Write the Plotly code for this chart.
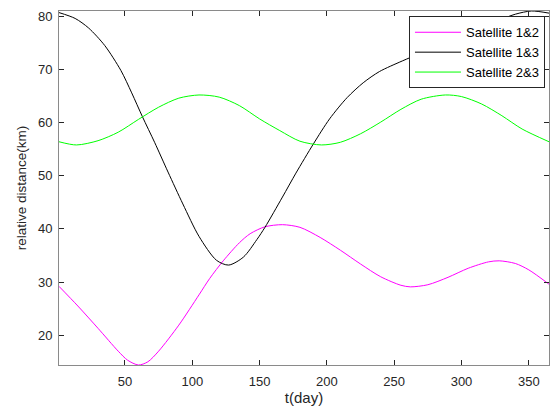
import plotly.graph_objects as go

# Satellite 1&2
days_12 = [1, 15, 30, 45, 52, 60, 67, 75, 90, 105, 113, 123, 135, 143, 154, 167, 180, 195, 210, 225, 240, 255, 262, 275, 290, 305, 320, 328, 340, 350, 365]
dist_12 = [29.2, 25.5, 21.3, 17.0, 15.3, 14.4, 15.0, 17.0, 21.9, 27.6, 30.7, 34.0, 37.4, 39.1, 40.4, 40.8, 40.3, 38.4, 36.0, 33.4, 31.0, 29.4, 29.1, 29.5, 30.9, 32.6, 33.8, 34.0, 33.5, 32.3, 29.6]

# Satellite 1&3
days_13 = [1, 13, 23, 35, 47, 55, 63, 72, 82, 93, 105, 118, 127, 138, 148, 154, 167, 177, 190, 202, 215, 227, 239, 256, 270, 285, 300, 315, 326, 340, 352, 365]
dist_13 = [80.7, 79.6, 77.8, 74.5, 69.8, 65.6, 61.1, 56.3, 50.7, 44.7, 38.6, 34.1, 33.2, 34.7, 38.0, 40.3, 46.0, 50.5, 56.0, 60.7, 64.7, 67.5, 69.6, 71.6, 73.1, 74.8, 76.5, 78.0, 79.1, 80.4, 81.0, 80.6]

# Satellite 2&3
days_23 = [1, 14, 30, 45, 60, 75, 90, 105, 120, 135, 150, 165, 180, 196, 210, 225, 240, 255, 270, 288, 300, 315, 330, 345, 365]
dist_23 = [56.4, 55.8, 56.6, 58.2, 60.6, 62.9, 64.6, 65.2, 64.8, 63.2, 60.7, 58.5, 56.5, 55.8, 56.3, 57.9, 60.1, 62.5, 64.4, 65.2, 64.9, 63.5, 61.3, 58.8, 56.4]

x_ticks = [50, 100, 150, 200, 250, 300, 350]
y_ticks = [20, 30, 40, 50, 60, 70, 80]

fig = go.Figure()
fig.add_trace(go.Scatter(x=days_12, y=dist_12, mode="lines", name="Satellite 1&2",
                         line=dict(color="#ff00ff", width=1, shape="spline", smoothing=0.8)))
fig.add_trace(go.Scatter(x=days_13, y=dist_13, mode="lines", name="Satellite 1&3",
                         line=dict(color="#000000", width=1, shape="spline", smoothing=0.8)))
fig.add_trace(go.Scatter(x=days_23, y=dist_23, mode="lines", name="Satellite 2&3",
                         line=dict(color="#00ff00", width=1, shape="spline", smoothing=0.8)))

axis_common = dict(
    showline=True, linecolor="#8a8a8a", linewidth=1, mirror="ticks",
    ticks="inside", ticklen=5, tickcolor="#262626", tickwidth=1,
    showgrid=False, zeroline=False,
    tickfont=dict(family="Liberation Sans, Arial", size=13, color="#262626"),
)

fig.update_layout(
    width=550, height=408,
    margin=dict(l=59, r=1, t=11, b=43, autoexpand=False),
    paper_bgcolor="white", plot_bgcolor="white",
    xaxis=dict(range=[1, 365], tickvals=x_ticks, ticklabelstandoff=4, automargin=False,
               title=dict(text="t(day)", standoff=4,
                          font=dict(family="Liberation Sans, Arial", size=15, color="#262626")),
               **axis_common),
    yaxis=dict(range=[14.4, 81.0], tickvals=y_ticks, ticklabelstandoff=3, automargin=False,
               title=dict(text="relative distance(km)", standoff=8,
                          font=dict(family="Liberation Sans, Arial", size=13.5, color="#262626")),
               **axis_common),
    legend=dict(x=0.9918, y=0.985, xanchor="right", yanchor="top",
                bgcolor="white", bordercolor="#262626", borderwidth=1,
                font=dict(family="Liberation Sans, Arial", size=13, color="#000000"),
                tracegroupgap=0, itemwidth=46),
    showlegend=True,
)

fig.write_html("out.html", config={"displayModeBar": False},
               post_script="document.body.style.margin='0';document.body.style.overflow='hidden';")
